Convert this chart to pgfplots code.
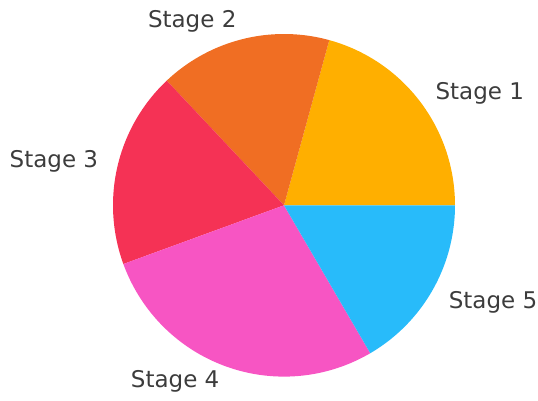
\documentclass[border=0pt]{standalone}
\usepackage{fontspec}
\setmainfont{DejaVu Sans}
\usepackage{pgfplots}
\pgfplotsset{compat=1.18}
\definecolor{s1}{RGB}{255,175,0}
\definecolor{s2}{RGB}{240,110,35}
\definecolor{s3}{RGB}{245,50,85}
\definecolor{s4}{RGB}{247,85,195}
\definecolor{s5}{RGB}{40,187,250}
\definecolor{txt}{RGB}{60,60,60}
\tikzset{lbl/.style={font=\fontsize{23bp}{27bp}\selectfont, text=txt, inner sep=0pt}}
\begin{document}
\begin{tikzpicture}
\useasboundingbox (0,0) rectangle (538bp,-401bp);
% shares (percent): Stage 1 20.7, Stage 2 16.3, Stage 3 18.5, Stage 4 27.8, Stage 5 16.7
% cumulative angles (deg): 0, 74.65, 133.3, 200.05, 300.3, 360
\begin{axis}[
  at={(284bp,-205.3bp)}, anchor=center,
  scale only axis, width=342bp, height=342.6bp,
  xmin=-1, xmax=1, ymin=-1, ymax=1,
  hide axis, clip=false,
]
\addplot[fill=s1, draw=none, domain=0:74.65, samples=80, variable=\t] ({cos(t)},{sin(t)}) -- (axis cs:0,0) -- cycle;
\addplot[fill=s2, draw=none, domain=74.65:133.3, samples=80, variable=\t] ({cos(t)},{sin(t)}) -- (axis cs:0,0) -- cycle;
\addplot[fill=s3, draw=none, domain=133.3:200.05, samples=80, variable=\t] ({cos(t)},{sin(t)}) -- (axis cs:0,0) -- cycle;
\addplot[fill=s4, draw=none, domain=200.05:300.3, samples=100, variable=\t] ({cos(t)},{sin(t)}) -- (axis cs:0,0) -- cycle;
\addplot[fill=s5, draw=none, domain=300.3:360, samples=80, variable=\t] ({cos(t)},{sin(t)}) -- (axis cs:0,0) -- cycle;
\node[lbl, anchor=west] at (axis cs:0.885,0.656) {Stage 1};
\node[lbl, anchor=east] at (axis cs:-0.277,1.073) {Stage 2};
\node[lbl, anchor=east] at (axis cs:-1.086,0.255) {Stage 3};
\node[lbl, anchor=east] at (axis cs:-0.377,-1.025) {Stage 4};
\node[lbl, anchor=west] at (axis cs:0.963,-0.565) {Stage 5};
\end{axis}
\end{tikzpicture}
\end{document}
